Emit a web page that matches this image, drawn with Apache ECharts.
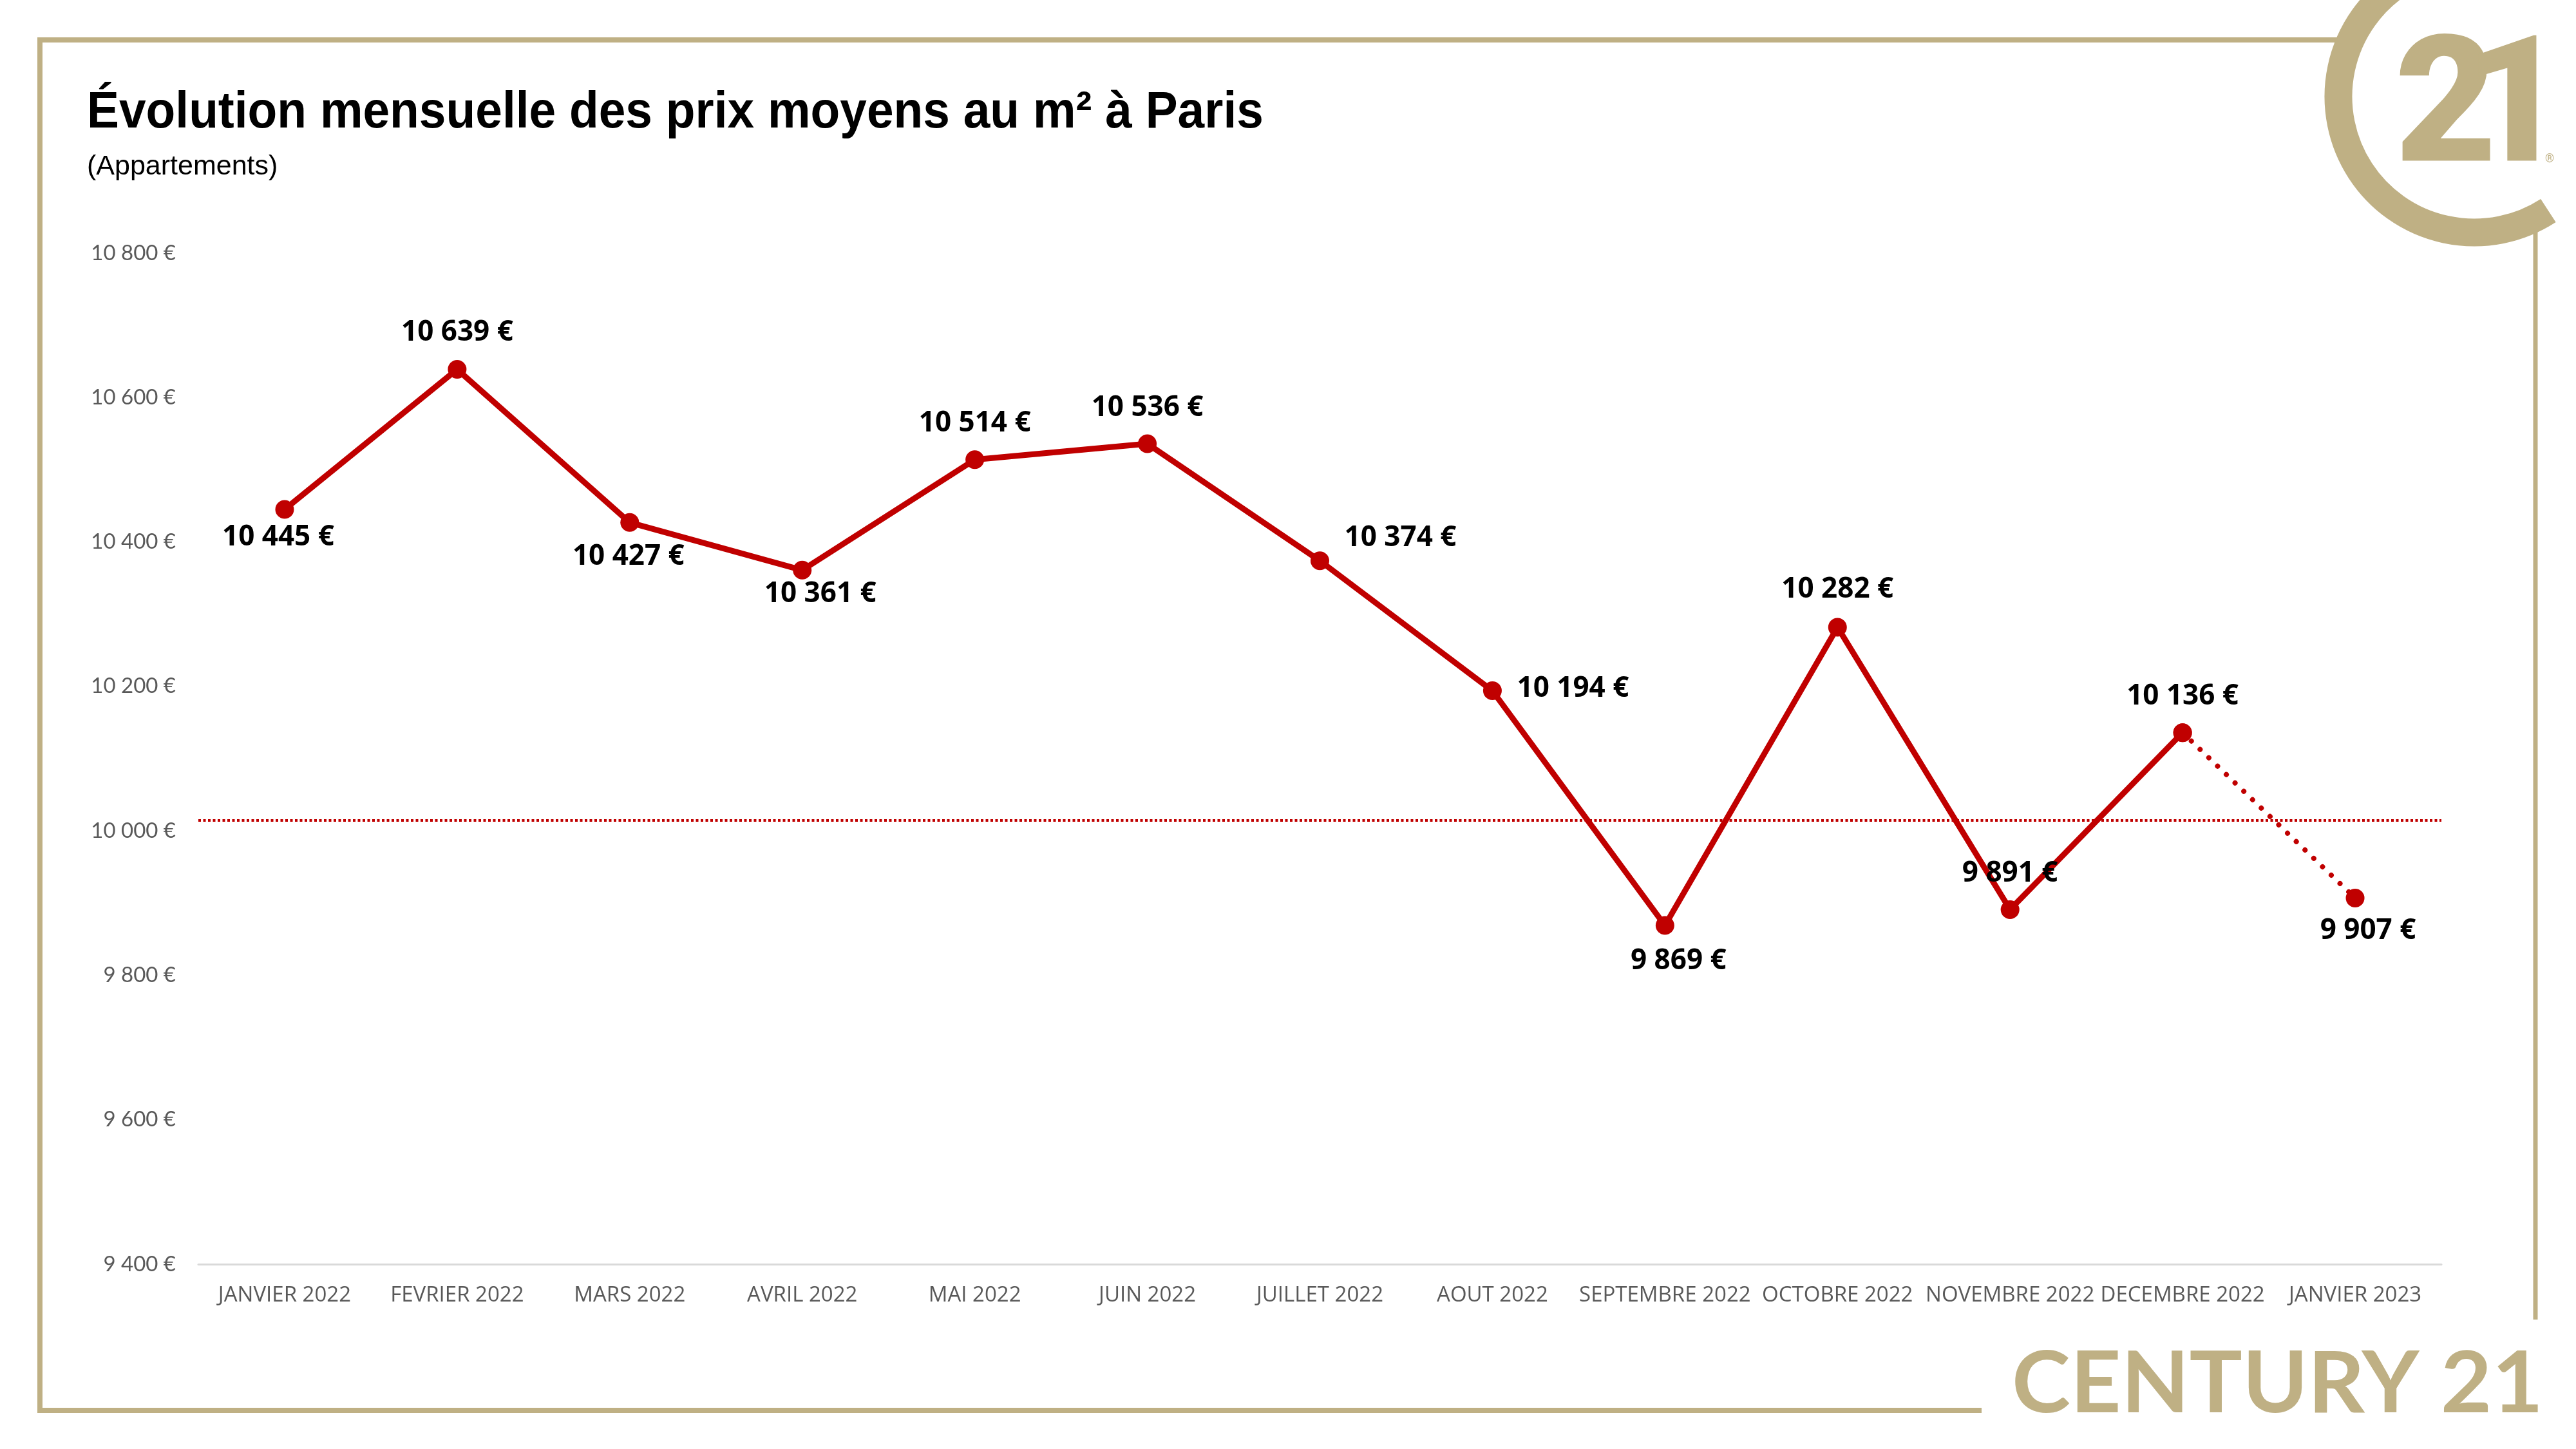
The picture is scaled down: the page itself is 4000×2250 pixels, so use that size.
<!DOCTYPE html>
<html>
<head>
<meta charset="utf-8">
<script src="https://cdn.jsdelivr.net/npm/echarts@6/dist/echarts.min.js"></script>
<style>
  html, body { margin: 0; padding: 0; background: #ffffff; }
  #chart { width: 4000px; height: 2250px; }
</style>
</head>
<body>
<div id="chart"></div>
<script>
// ---------------- DATA ----------------
const categories = [
  'JANVIER 2022', 'FEVRIER 2022', 'MARS 2022', 'AVRIL 2022', 'MAI 2022',
  'JUIN 2022', 'JUILLET 2022', 'AOUT 2022', 'SEPTEMBRE 2022', 'OCTOBRE 2022',
  'NOVEMBRE 2022', 'DECEMBRE 2022', 'JANVIER 2023'
];
const prices = [10445, 10639, 10427, 10361, 10514, 10536, 10374, 10194, 9869, 10282, 9891, 10136, 9907];
const lastSolidIndex = 11;          // segment after this point is dotted
const referenceValue = 10015;       // dotted horizontal reference line
const yMin = 9400, yMax = 10800, yStep = 200;

const titleText = 'Évolution mensuelle des prix moyens au m² à Paris';
const subtitleText = '(Appartements)';

// ---------------- STYLE ----------------
const RED = '#C00000';
const GOLD = '#BFB084';
const GRAY = '#595959';
// label offsets (dx, dy) relative to each point centre
const labelOffsets = [
  [-10, 43], [0, -57], [-2, 53], [28, 37], [0, -56], [0, -56], [125, -35],
  [125, -3], [21, 55], [0, -58], [0, -56], [0, -56], [20, 51]
];

function fmt(v) {
  return String(v).replace(/\B(?=(\d{3})+(?!\d))/g, ' ') + ' €';
}

const solidData = prices.map((v, i) => i <= lastSolidIndex
  ? { value: v, label: { offset: labelOffsets[i] } }
  : null);
const dottedData = prices.map((v, i) => {
  if (i < lastSolidIndex) return null;
  if (i === lastSolidIndex) return { value: v, label: { show: false } };
  return { value: v, label: { offset: labelOffsets[i] } };
});

const chart = echarts.init(document.getElementById('chart'), null, { renderer: 'canvas' });

const option = {
  backgroundColor: '#ffffff',
  animation: false,
  grid: { left: 308, right: 209, top: 393, bottom: 287, containLabel: false },
  xAxis: {
    type: 'category',
    data: categories,
    boundaryGap: true,
    axisLine: { show: true, lineStyle: { color: '#D9D9D9', width: 3 } },
    axisTick: { show: false },
    axisLabel: {
      color: GRAY, fontFamily: 'Open Sans', fontSize: 33, margin: 32, interval: 0
    },
    splitLine: { show: false }
  },
  yAxis: {
    type: 'value',
    min: yMin, max: yMax, interval: yStep,
    axisLine: { show: false },
    axisTick: { show: false },
    splitLine: { show: false },
    axisLabel: {
      color: GRAY, fontFamily: 'Lato', fontSize: 33, margin: 35,
      formatter: v => fmt(v)
    }
  },
  series: [
    {
      type: 'line',
      data: solidData,
      connectNulls: false,
      symbol: 'circle',
      symbolSize: 29,
      showAllSymbol: true,
      itemStyle: { color: RED },
      lineStyle: { color: RED, width: 9 },
      label: {
        show: true, position: 'inside',
        color: '#000000', fontFamily: 'Open Sans', fontWeight: 'bold', fontSize: 44,
        formatter: p => fmt(p.value)
      },
      markLine: {
        silent: true,
        symbol: ['none', 'none'],
        label: { show: false },
        lineStyle: { color: RED, width: 4, type: [4, 3.5] },
        data: [{ yAxis: referenceValue }]
      },
      z: 3
    },
    {
      type: 'line',
      data: dottedData,
      connectNulls: false,
      symbol: 'circle',
      symbolSize: 29,
      showAllSymbol: true,
      itemStyle: { color: RED },
      lineStyle: { color: RED, width: 8, type: [0.01, 18.8], cap: 'round' },
      label: {
        show: true, position: 'inside',
        color: '#000000', fontFamily: 'Open Sans', fontWeight: 'bold', fontSize: 44,
        formatter: p => fmt(p.value)
      },
      z: 3
    }
  ],
  graphic: [
    // frame
    { type: 'line', shape: { x1: 58, y1: 62, x2: 3630, y2: 62 }, style: { stroke: GOLD, lineWidth: 8 }, silent: true },
    { type: 'line', shape: { x1: 62, y1: 58, x2: 62, y2: 2194 }, style: { stroke: GOLD, lineWidth: 8 }, silent: true },
    { type: 'line', shape: { x1: 58, y1: 2190, x2: 3077, y2: 2190 }, style: { stroke: GOLD, lineWidth: 8 }, silent: true },
    { type: 'line', shape: { x1: 3937, y1: 355, x2: 3937, y2: 2049 }, style: { stroke: GOLD, lineWidth: 7 }, silent: true },
    // logo ring
    { type: 'arc', shape: { cx: 3842, cy: 150, r: 211, startAngle: 57 * Math.PI / 180, endAngle: 300 * Math.PI / 180, clockwise: true },
      style: { stroke: GOLD, lineWidth: 43, fill: null, lineCap: 'butt' }, silent: true },
    { type: 'text', x: 3798, y: 181, silent: true,
      style: { text: '2', fill: GOLD, font: '900 274px Roboto', align: 'center', verticalAlign: 'middle' } },
    { type: 'text', x: 3906, y: 181, silent: true,
      style: { text: '1', fill: GOLD, font: '900 274px Roboto', align: 'center', verticalAlign: 'middle' } },
    { type: 'text', x: 3959, y: 247, silent: true,
      style: { text: '®', fill: GOLD, font: '18px Roboto', align: 'center', verticalAlign: 'middle' } },
    // wordmark
    { type: 'text', x: 3124, y: 2150, scaleX: 1.04, originX: 0, originY: 0, silent: true,
      style: { text: 'CENTURY 21', fill: GOLD, font: 'bold 132px Lato', align: 'left', verticalAlign: 'middle' } },
    // title
    { type: 'text', x: 135, y: 176, scaleX: 0.936, originX: 0, originY: 0, silent: true,
      style: { text: titleText, fill: '#000000', font: 'bold 80px "Liberation Sans", Arial', align: 'left', verticalAlign: 'middle' } },
    { type: 'text', x: 135, y: 259, silent: true,
      style: { text: subtitleText, fill: '#000000', font: '43px "Liberation Sans", Arial', align: 'left', verticalAlign: 'middle' } }
  ]
};

chart.setOption(option);
</script>
</body>
</html>
